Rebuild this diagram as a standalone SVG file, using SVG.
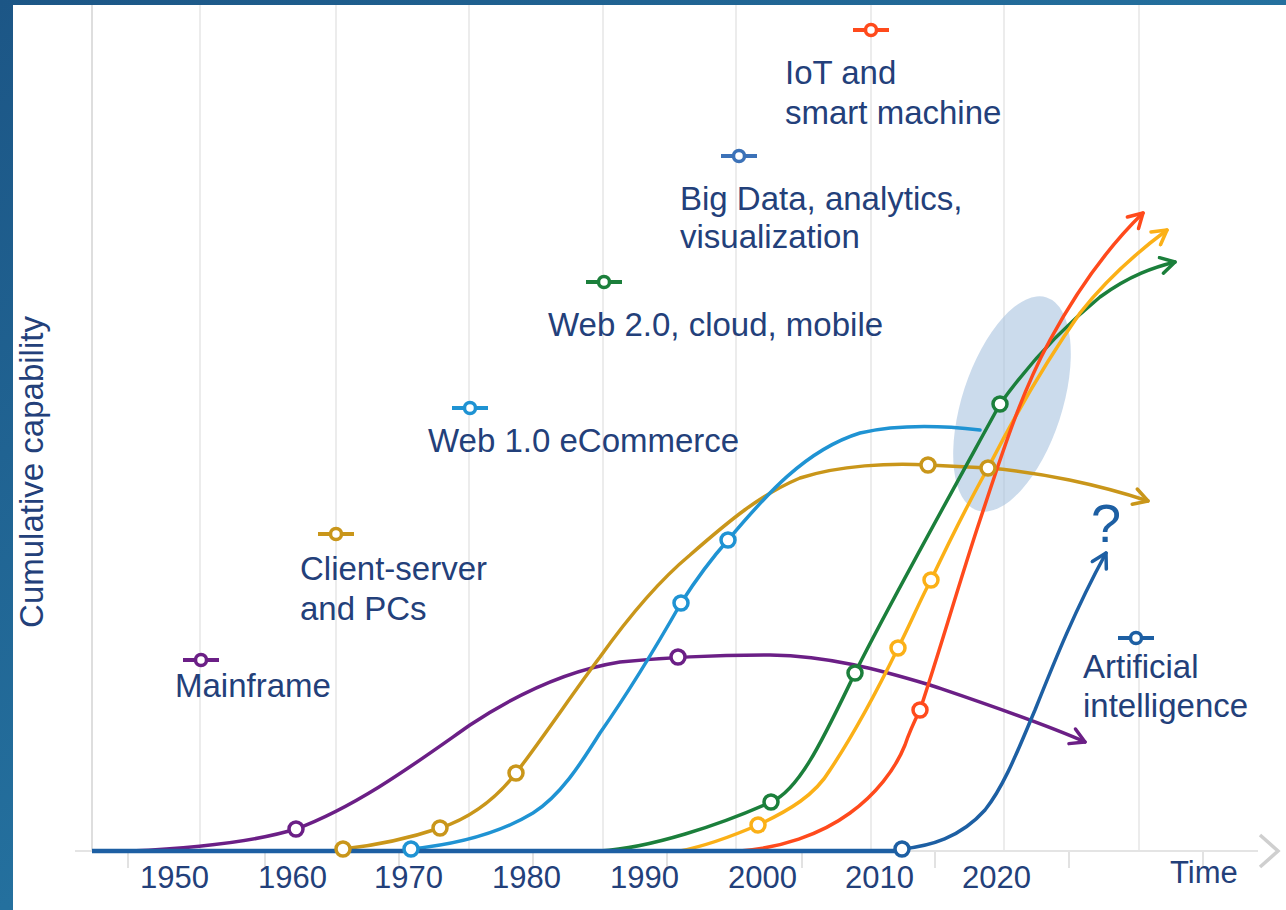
<svg xmlns="http://www.w3.org/2000/svg" width="1286" height="910" viewBox="0 0 1286 910">
<defs>
<linearGradient id="bg" x1="0" y1="0" x2="1" y2="1">
<stop offset="0" stop-color="#1c5686"/>
<stop offset="0.5" stop-color="#24709e"/>
<stop offset="1" stop-color="#1e5f8f"/>
</linearGradient>
<marker id="aPurple" viewBox="0 0 20 20" refX="17" refY="10" markerWidth="20" markerHeight="20" markerUnits="userSpaceOnUse" orient="auto"><path d="M3,2 L17,10 L3,18" fill="none" stroke="#6b1f86" stroke-width="3.5" stroke-linecap="round" stroke-linejoin="round"/></marker>
<marker id="aGold" viewBox="0 0 20 20" refX="17" refY="10" markerWidth="20" markerHeight="20" markerUnits="userSpaceOnUse" orient="auto"><path d="M3,2 L17,10 L3,18" fill="none" stroke="#c9961a" stroke-width="3.5" stroke-linecap="round" stroke-linejoin="round"/></marker>
<marker id="aGreen" viewBox="0 0 20 20" refX="17" refY="10" markerWidth="20" markerHeight="20" markerUnits="userSpaceOnUse" orient="auto"><path d="M3,2 L17,10 L3,18" fill="none" stroke="#1b7f3b" stroke-width="3.5" stroke-linecap="round" stroke-linejoin="round"/></marker>
<marker id="aYellow" viewBox="0 0 20 20" refX="17" refY="10" markerWidth="20" markerHeight="20" markerUnits="userSpaceOnUse" orient="auto"><path d="M3,2 L17,10 L3,18" fill="none" stroke="#fbb017" stroke-width="3.5" stroke-linecap="round" stroke-linejoin="round"/></marker>
<marker id="aRed" viewBox="0 0 20 20" refX="17" refY="10" markerWidth="20" markerHeight="20" markerUnits="userSpaceOnUse" orient="auto"><path d="M3,2 L17,10 L3,18" fill="none" stroke="#ff4a1c" stroke-width="3.5" stroke-linecap="round" stroke-linejoin="round"/></marker>
<marker id="aNavy" viewBox="0 0 20 20" refX="17" refY="10" markerWidth="20" markerHeight="20" markerUnits="userSpaceOnUse" orient="auto"><path d="M3,2 L17,10 L3,18" fill="none" stroke="#1d5fa3" stroke-width="3.5" stroke-linecap="round" stroke-linejoin="round"/></marker>
</defs>
<style>
text{font-family:"Liberation Sans",Arial,sans-serif;fill:#23407a}
.lbl{font-size:33px}
.yr{font-size:31px}
.ylab{font-size:33px}
.grid{stroke:#ececec;stroke-width:2}
.tick{stroke:#e2e2e2;stroke-width:2}
.curve{fill:none;stroke-width:3.5;stroke-linecap:round;stroke-linejoin:round}
.pt{fill:#fff;stroke-width:3.5}
.purple{stroke:#6b1f86}
.gold{stroke:#c9961a}
.blue{stroke:#1f93d3}
.green{stroke:#1b7f3b}
.yellow{stroke:#fbb017}
.red{stroke:#ff4a1c}
.navy{stroke:#1d5fa3}
.bd{stroke:#3c72b8}
</style>
<rect x="0" y="0" width="1286" height="910" fill="url(#bg)"/>
<rect x="13" y="5" width="1273" height="905" fill="#ffffff"/>

<g id="grid">
<line x1="92" y1="5" x2="92" y2="852" stroke="#dedede" stroke-width="2"/>
<line class="grid" x1="200" y1="5" x2="200" y2="852"/>
<line class="grid" x1="336" y1="5" x2="336" y2="852"/>
<line class="grid" x1="469" y1="5" x2="469" y2="852"/>
<line class="grid" x1="603" y1="5" x2="603" y2="852"/>
<line class="grid" x1="736" y1="5" x2="736" y2="852"/>
<line class="grid" x1="871" y1="5" x2="871" y2="852"/>
<line class="grid" x1="1004" y1="5" x2="1004" y2="852"/>
<line class="grid" x1="1139" y1="5" x2="1139" y2="852"/>
</g>

<g id="axis">
<line x1="75" y1="851" x2="1258" y2="851" stroke="#e4e4e4" stroke-width="2"/>
<line class="tick" x1="128" y1="852" x2="128" y2="868"/>
<line class="tick" x1="265" y1="852" x2="265" y2="868"/>
<line class="tick" x1="399" y1="852" x2="399" y2="868"/>
<line class="tick" x1="533" y1="852" x2="533" y2="868"/>
<line class="tick" x1="667" y1="852" x2="667" y2="868"/>
<line class="tick" x1="802" y1="852" x2="802" y2="868"/>
<line class="tick" x1="935" y1="852" x2="935" y2="868"/>
<line class="tick" x1="1069" y1="852" x2="1069" y2="868"/>
<line class="tick" x1="1203" y1="852" x2="1203" y2="868"/>
<polyline points="1260,835 1278,851 1260,867" fill="none" stroke="#cfcfcf" stroke-width="3.5"/>
<text class="yr" x="140" y="888">1950</text>
<text class="yr" x="258" y="888">1960</text>
<text class="yr" x="374" y="888">1970</text>
<text class="yr" x="492" y="888">1980</text>
<text class="yr" x="610" y="888">1990</text>
<text class="yr" x="728" y="888">2000</text>
<text class="yr" x="845" y="888">2010</text>
<text class="yr" x="962" y="888">2020</text>
<text class="yr" x="1170" y="883">Time</text>
<text class="ylab" transform="translate(43,472) rotate(-90)" text-anchor="middle">Cumulative capability</text>
</g>

<ellipse id="highlight" cx="1012" cy="404" rx="50" ry="112" transform="rotate(18 1012 404)" fill="#a9c3df" fill-opacity="0.6"/>

<g id="connectors">
<path class="curve purple" marker-end="url(#aPurple)" d="M130,851 C200,848 260,840 296,829 C360,805 420,760 470,725 C520,692 570,670 620,662 C660,658 720,655 770,655 C830,656 880,670 930,685 C980,702 1040,722 1085,742"/>
<path class="curve gold" marker-end="url(#aGold)" d="M343,849 C380,845 410,838 440,828 C470,818 495,800 516,773 C545,735 575,690 600,657 C630,615 660,580 690,555 C730,520 760,495 800,478 C840,465 890,463 928,465 C950,466 970,467 988,468 C1040,472 1100,485 1148,501"/>
<path class="curve blue" d="M411,849 C450,845 495,836 533,813 C560,796 580,765 600,733 C630,690 660,640 681,603 C697,578 712,558 728,540 C765,496 805,450 860,433 C900,424 945,426 980,430"/>
<path class="curve green" marker-end="url(#aGreen)" d="M600,851 C650,848 720,825 771,802 C800,790 825,735 855,673 C885,612 965,468 1000,404 C1030,362 1060,330 1100,297 C1130,275 1155,267 1175,262"/>
<path class="curve yellow" marker-end="url(#aYellow)" d="M680,851 C710,845 735,835 758,825 C790,810 815,795 830,770 C850,740 875,695 898,648 C910,625 920,600 931,580 C950,540 970,500 988,468 C1010,425 1040,370 1080,313 C1110,275 1140,250 1167,230"/>
<path class="curve red" marker-end="url(#aRed)" d="M740,851 C780,848 820,835 850,813 C875,795 895,770 905,745 C910,730 915,720 920,710 C940,650 960,580 980,520 C1000,460 1020,395 1050,340 C1080,285 1110,245 1143,213"/>
<line class="navy" x1="92" y1="851" x2="902" y2="851" stroke-width="4.5"/>
<path class="curve navy" marker-end="url(#aNavy)" d="M902,849 C930,846 960,838 985,810 C1005,785 1020,745 1035,710 C1055,660 1075,610 1106,553"/>
</g>

<g id="points">
<circle class="pt purple" cx="296" cy="829" r="7"/>
<circle class="pt purple" cx="678" cy="657" r="7"/>
<circle class="pt gold" cx="343" cy="849" r="7"/>
<circle class="pt gold" cx="440" cy="828" r="7"/>
<circle class="pt gold" cx="516" cy="773" r="7"/>
<circle class="pt gold" cx="928" cy="465" r="7"/>
<circle class="pt blue" cx="411" cy="849" r="7"/>
<circle class="pt blue" cx="681" cy="603" r="7"/>
<circle class="pt blue" cx="728" cy="540" r="7"/>
<circle class="pt green" cx="771" cy="802" r="7"/>
<circle class="pt green" cx="855" cy="673" r="7"/>
<circle class="pt green" cx="1000" cy="404" r="7"/>
<circle class="pt yellow" cx="758" cy="825" r="7"/>
<circle class="pt yellow" cx="898" cy="648" r="7"/>
<circle class="pt yellow" cx="931" cy="580" r="7"/>
<circle class="pt gold" cx="988" cy="468" r="7"/>
<circle class="pt red" cx="920" cy="710" r="7"/>
<circle class="pt navy" cx="902" cy="849" r="7"/>
</g>

<g id="mainframe">
<line class="purple" x1="183" y1="660" x2="219" y2="660" stroke-width="4"/>
<circle class="pt purple" cx="201" cy="660" r="5.5"/>
<text class="lbl" x="175" y="697">Mainframe</text>
</g>
<g id="client-server">
<line class="gold" x1="318" y1="534" x2="354" y2="534" stroke-width="4"/>
<circle class="pt gold" cx="336" cy="534" r="5.5"/>
<text class="lbl" x="300" y="580">Client-server</text>
<text class="lbl" x="300" y="620">and PCs</text>
</g>
<g id="web1">
<line class="blue" x1="452" y1="408" x2="488" y2="408" stroke-width="4"/>
<circle class="pt blue" cx="470" cy="408" r="5.5"/>
<text class="lbl" x="428" y="452">Web 1.0 eCommerce</text>
</g>
<g id="web2">
<line class="green" x1="586" y1="282" x2="622" y2="282" stroke-width="4"/>
<circle class="pt green" cx="604" cy="282" r="5.5"/>
<text class="lbl" x="548" y="336">Web 2.0, cloud, mobile</text>
</g>
<g id="bigdata">
<line class="bd" x1="721" y1="156" x2="757" y2="156" stroke-width="4"/>
<circle class="pt bd" cx="739" cy="156" r="5.5"/>
<text class="lbl" x="680" y="210">Big Data, analytics,</text>
<text class="lbl" x="680" y="248">visualization</text>
</g>
<g id="iot">
<line class="red" x1="853" y1="30" x2="889" y2="30" stroke-width="4"/>
<circle class="pt red" cx="871" cy="30" r="5.5"/>
<text class="lbl" x="785" y="84">IoT and</text>
<text class="lbl" x="785" y="124">smart machine</text>
</g>
<g id="ai">
<line class="navy" x1="1118" y1="638" x2="1154" y2="638" stroke-width="4"/>
<circle class="pt navy" cx="1136" cy="638" r="5.5"/>
<text class="lbl" x="1083" y="678">Artificial</text>
<text class="lbl" x="1083" y="717">intelligence</text>
<text x="1091" y="542" style="font-size:54px;fill:#1d5fa3">?</text>
</g>
</svg>
